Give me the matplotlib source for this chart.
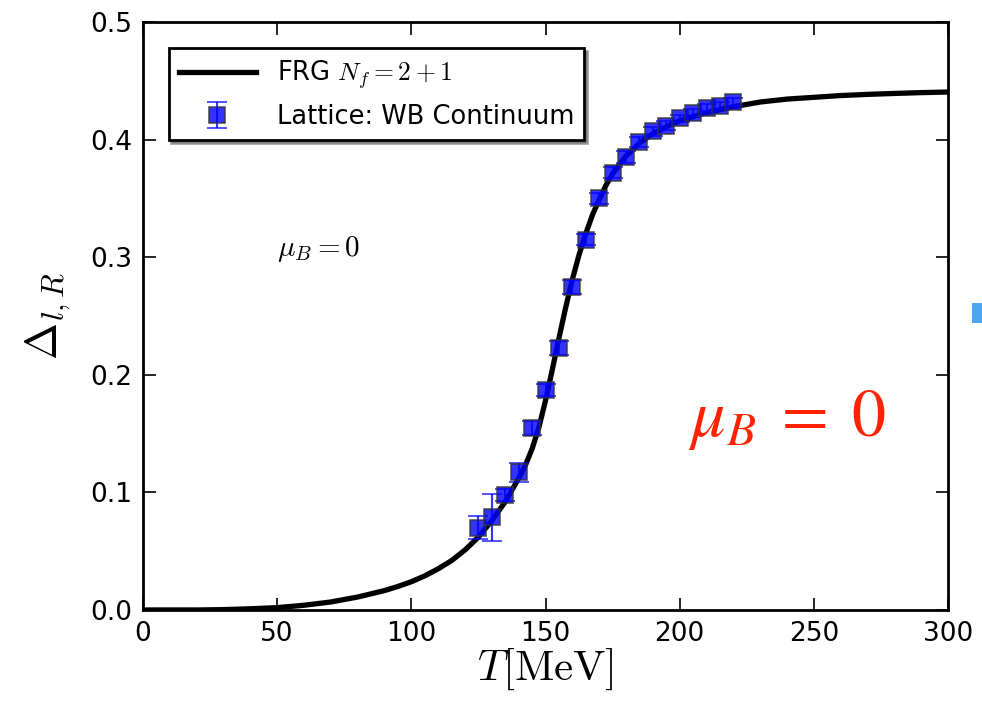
import matplotlib
matplotlib.use("Agg")
import matplotlib.pyplot as plt
from matplotlib.patches import Rectangle

plt.rcParams['mathtext.fontset'] = 'cm'
plt.rcParams['font.family'] = 'DejaVu Sans'

# FRG N_f = 2+1 curve
frg_T = [0, 20, 30, 40, 50, 60, 70, 80, 90, 95, 100, 105, 110, 115, 120,
         125, 130, 135, 140, 142.5, 145, 147.5, 150, 152.5, 155, 157.5, 160,
         162.5, 165, 167.5, 170, 172.5, 175, 180, 185, 190, 195, 200, 210,
         220, 230, 240, 250, 260, 270, 280, 290, 300]
frg_D = [0.0, 0.0, 0.0003, 0.001, 0.002, 0.004, 0.0068, 0.011, 0.0165, 0.020,
         0.024, 0.029, 0.035, 0.042, 0.051, 0.062, 0.076, 0.092, 0.112, 0.123,
         0.137, 0.155, 0.178, 0.204, 0.231, 0.257, 0.281, 0.302, 0.320, 0.336,
         0.349, 0.361, 0.371, 0.386, 0.397, 0.405, 0.411, 0.416, 0.423, 0.428,
         0.432, 0.4345, 0.436, 0.4375, 0.4385, 0.4393, 0.440, 0.4405]

# Lattice: WB continuum
lat_T = [125, 130, 135, 140, 145, 150, 155, 160, 165, 170, 175, 180, 185,
         190, 195, 200, 205, 210, 215, 220]
lat_D = [0.070, 0.079, 0.098, 0.117, 0.155, 0.187, 0.223, 0.275, 0.315,
         0.350, 0.372, 0.385, 0.398, 0.407, 0.412, 0.418, 0.423, 0.427,
         0.429, 0.432]
lat_err = [0.010, 0.020, 0.005, 0.008, 0.006, 0.005, 0.006, 0.006, 0.005,
           0.005, 0.005, 0.005, 0.004, 0.004, 0.004, 0.003, 0.003, 0.003,
           0.003, 0.003]

fig = plt.figure(figsize=(9.82, 7.12), dpi=100)
ax = fig.add_axes([0.1456, 0.1433, 0.8198, 0.8257])

ax.plot(frg_T, frg_D, color='black', lw=3.8, label=r'FRG $N_f=2+1$', zorder=2)
ax.errorbar(lat_T, lat_D, yerr=lat_err, fmt='s', color='blue', ms=11,
            mfc='blue', mec='#333333', mew=1.2, alpha=0.8, ecolor='blue',
            elinewidth=1.5, capsize=7, capthick=1.5,
            label='Lattice: WB Continuum', zorder=3)

ax.set_xlim(0, 300)
ax.set_ylim(0, 0.5)
ax.set_xticks([0, 50, 100, 150, 200, 250, 300])
ax.set_yticks([0.0, 0.1, 0.2, 0.3, 0.4, 0.5])
ax.tick_params(direction='in', length=9, width=1.2, labelsize=19, pad=8,
               top=True, right=True)
for s in ax.spines.values():
    s.set_linewidth(2)

ax.set_xlabel(r'$T[\mathrm{MeV}]$', fontsize=31, labelpad=0)
ax.set_ylabel(r'$\Delta_{l,R}$', fontsize=32, labelpad=12)

leg = ax.legend(loc='upper left', fontsize=18.5, frameon=True, fancybox=False,
                shadow=True, numpoints=1, handlelength=3.0,
                borderaxespad=1.0, borderpad=0.4)
leg.get_frame().set_edgecolor('black')
leg.get_frame().set_linewidth(2)

ax.text(50, 0.307, r'$\mu_B=0$', fontsize=21, ha='left', va='center')
ax.text(240, 0.162, r'$\mu_B\;=\;0$', fontsize=49, color='#ff2200',
        ha='center', va='center', math_fontfamily='stix')

# cut-off blue box at the right edge of the slide
fig.patches.append(Rectangle((0.99, 0.546), 0.02, 0.028, transform=fig.transFigure,
                             facecolor='#4da6f0', edgecolor='none'))

fig.savefig('out.png', dpi=100)
